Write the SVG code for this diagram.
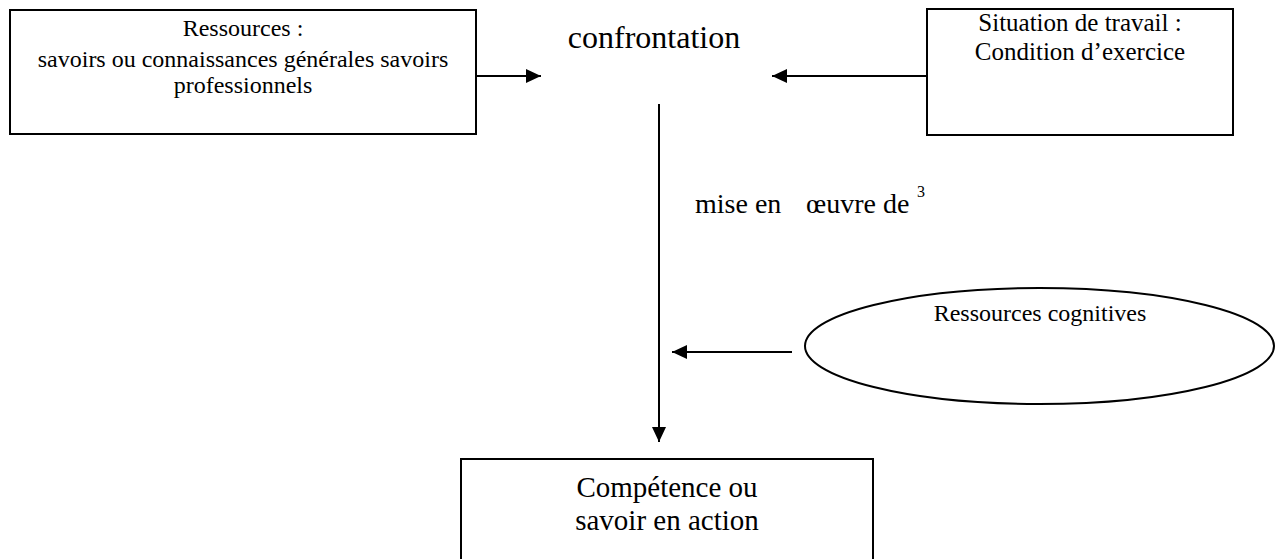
<svg xmlns="http://www.w3.org/2000/svg" width="1279" height="559" viewBox="0 0 1279 559">
<defs>
<style>
.box{fill:#fff;stroke:#000;stroke-width:2}
.t{font-family:"Liberation Serif","Times New Roman",serif;fill:#000;text-anchor:middle}
.s{font-size:24px}
.l{font-size:28px}
.c{stroke:#000;stroke-width:2;fill:none}
</style>
<marker id="ah" markerUnits="userSpaceOnUse" markerWidth="16" markerHeight="14" refX="15" refY="7" orient="auto">
<path d="M0,0 L15,7 L0,14 Z" fill="#000"/>
</marker>
</defs>
<rect width="1279" height="559" fill="#fff"/>
<g id="connectors">
<line class="c" x1="476" y1="76" x2="541" y2="76" marker-end="url(#ah)"/>
<line class="c" x1="927" y1="76" x2="772" y2="76" marker-end="url(#ah)"/>
<line class="c" x1="659" y1="104" x2="659" y2="442" marker-end="url(#ah)"/>
<line class="c" x1="792" y1="352" x2="672" y2="352" marker-end="url(#ah)"/>
</g>
<g id="ressources">
<rect class="box" x="10" y="10" width="466" height="124"/>
<text class="t s" x="243" y="36">Ressources :</text>
<text class="t s" x="243" y="67">savoirs ou connaissances générales savoirs</text>
<text class="t s" x="243" y="93">professionnels</text>
</g>
<g id="confrontation">
<text class="t" style="font-size:32px" x="654" y="48">confrontation</text>
</g>
<g id="situation">
<rect class="box" x="927" y="9" width="306" height="126"/>
<text class="t" style="font-size:25px" x="1080" y="31">Situation de travail :</text>
<text class="t" style="font-size:25px" x="1080" y="60">Condition d’exercice</text>
</g>
<g id="mise-en-oeuvre">
<text class="t" style="font-size:28px;text-anchor:start" x="695" y="213">mise en</text>
<text class="t" style="font-size:28px;text-anchor:start" x="806" y="213">œuvre de</text>
<text class="t" style="font-size:16px;text-anchor:start" x="917" y="197">3</text>
</g>
<g id="ressources-cognitives">
<ellipse class="box" cx="1039.5" cy="346" rx="234.5" ry="58"/>
<text class="t s" x="1040" y="321">Ressources cognitives</text>
</g>
<g id="competence">
<rect class="box" x="461" y="459" width="412" height="110"/>
<text class="t" style="font-size:29px" x="667" y="497">Compétence ou</text>
<text class="t" style="font-size:29px" x="667" y="530">savoir en action</text>
</g>
</svg>
